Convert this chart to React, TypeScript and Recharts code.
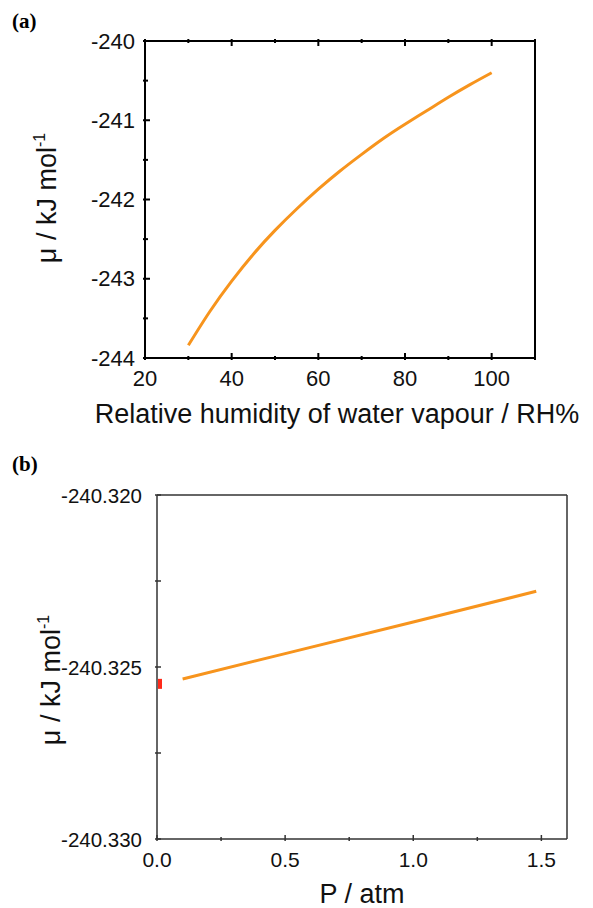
import { LineChart, Line, XAxis, YAxis, Label, ComposedChart, Scatter } from "recharts";

// (a) chemical potential vs relative humidity
const rhValues = [30, 35, 40, 45, 50, 55, 60, 65, 70, 75, 80, 85, 90, 95, 100];
const muRh = [
  -243.84, -243.41, -243.03, -242.69, -242.39, -242.12, -241.87, -241.64,
  -241.43, -241.23, -241.05, -240.88, -240.71, -240.55, -240.4,
];
const rhTicks = [20, 30, 40, 50, 60, 70, 80, 90, 100, 110];
const rhMajor = [20, 40, 60, 80, 100];
const muTicksA = [-244, -243.5, -243, -242.5, -242, -241.5, -241, -240.5, -240];
const muMajorA = [-244, -243, -242, -241, -240];

// (b) chemical potential vs pressure
const pressureValues = [0.1, 0.5, 1.0, 1.48];
const muP = [-240.32535, -240.32461, -240.32369, -240.3228];
const refPressure = [0];
const refMu = [-240.32549];
const pTicks = [0, 0.25, 0.5, 0.75, 1.0, 1.25, 1.5];
const pMajor = [0, 0.5, 1.0, 1.5];
const muTicksB = [-240.33, -240.3275, -240.325, -240.3225, -240.32];
const muMajorB = [-240.33, -240.325, -240.32];

const dataA = rhValues.map((rh, i) => ({ rh, mu: muRh[i] }));
const dataB = pressureValues.map((p, i) => ({ p, mu: muP[i] }));
const refB = refPressure.map((p, i) => ({ p, mu: refMu[i] }));

const ORANGE = "#f7941d";
const FONT = "'Liberation Sans', Arial, Helvetica, sans-serif";

type Side = "bottom" | "top" | "left" | "right";

function makeTick(
  side: Side,
  majors: number[],
  fmt: ((v: number) => string) | null,
  o: { major: number; minor: number; gap: number; size: number; stroke: string; sw: number }
) {
  return (props: any) => {
    const { x, y, payload } = props;
    const v = payload.value;
    const isMajor = majors.some((m) => Math.abs(m - v) < 1e-7);
    const len = isMajor ? o.major : o.minor;
    let x2 = x;
    let y2 = y;
    if (side === "bottom") y2 = y - len;
    if (side === "top") y2 = y + len;
    if (side === "left") x2 = x + len;
    if (side === "right") x2 = x - len;
    let label = null;
    if (fmt && isMajor) {
      if (side === "bottom")
        label = (
          <text x={x} y={y + o.gap} textAnchor="middle" dominantBaseline="central" fontSize={o.size} fontFamily={FONT} fill="#111">
            {fmt(v)}
          </text>
        );
      if (side === "left")
        label = (
          <text x={x - o.gap} y={y} textAnchor="end" dominantBaseline="central" fontSize={o.size} fontFamily={FONT} fill="#111">
            {fmt(v)}
          </text>
        );
    }
    return (
      <g>
        <line x1={x} y1={y} x2={x2} y2={y2} stroke={o.stroke} strokeWidth={o.sw} />
        {label}
      </g>
    );
  };
}

const styleA = { major: 7, minor: 4, gap: 18, size: 22, stroke: "#000", sw: 2 };
const styleAy = { ...styleA, gap: 8, minor: 5 };
const styleB = { major: 6, minor: 4, gap: 18, size: 21, stroke: "#333", sw: 1.5 };
const styleBy = { ...styleB, gap: 13, minor: 6, size: 20.5 };

function YTitle({ x, y }: { x: number; y: number }) {
  return (
    <text transform={`translate(${x},${y}) rotate(-90)`} textAnchor="middle" fontSize={27} fontFamily={FONT} fill="#111">
      μ / kJ mol<tspan dy={-11} fontSize={16}>-1</tspan>
    </text>
  );
}

function RedMark(props: any) {
  const { cx, cy } = props;
  return <rect x={cx + 1} y={cy - 5} width={4} height={10} fill="#ff2a1a" />;
}

export default function App() {
  return (
    <div style={{ position: "absolute", left: 0, top: 0, width: 593, height: 908, background: "#fff" }}>
      <div style={{ position: "absolute", left: 12, top: 9, font: "bold 21px 'Liberation Serif', serif" }}>(a)</div>
      <div style={{ position: "absolute", left: 12, top: 452, font: "bold 21px 'Liberation Serif', serif" }}>(b)</div>

      <div style={{ position: "absolute", left: 0, top: 0 }}>
        <LineChart width={593} height={440} data={dataA} margin={{ top: 0, right: 0, bottom: 0, left: 0 }}>
          <XAxis
            xAxisId="b"
            dataKey="rh"
            type="number"
            domain={[20, 110]}
            ticks={rhTicks}
            interval={0}
            height={82}
            tickSize={0}
            tickLine={false}
            axisLine={{ stroke: "#000", strokeWidth: 2 }}
            tick={makeTick("bottom", rhMajor, (v) => String(v), styleA)}
          >
            <Label
              content={() => (
                <text x={337} y={423} textAnchor="middle" fontSize={27} fontFamily={FONT} fill="#111">
                  Relative humidity of water vapour / RH%
                </text>
              )}
            />
          </XAxis>
          <XAxis
            xAxisId="t"
            dataKey="rh"
            type="number"
            orientation="top"
            domain={[20, 110]}
            ticks={rhTicks}
            interval={0}
            height={41}
            tickSize={0}
            tickLine={false}
            axisLine={{ stroke: "#000", strokeWidth: 2 }}
            tick={makeTick("top", rhMajor, null, styleA)}
          />
          <YAxis
            yAxisId="l"
            type="number"
            domain={[-244, -240]}
            ticks={muTicksA}
            interval={0}
            width={145}
            tickSize={0}
            tickLine={false}
            axisLine={{ stroke: "#000", strokeWidth: 2 }}
            tick={makeTick("left", muMajorA, (v) => String(v), styleAy)}
          >
            <Label content={() => <YTitle x={56} y={198} />} />
          </YAxis>
          <YAxis
            yAxisId="r"
            orientation="right"
            type="number"
            domain={[-244, -240]}
            ticks={muTicksA}
            interval={0}
            width={58}
            tickSize={0}
            tickLine={false}
            axisLine={{ stroke: "#000", strokeWidth: 2 }}
            tick={makeTick("right", muMajorA, null, styleAy)}
          />
          <Line
            xAxisId="b"
            yAxisId="l"
            type="natural"
            dataKey="mu"
            stroke={ORANGE}
            strokeWidth={3}
            dot={false}
            isAnimationActive={false}
          />
        </LineChart>
      </div>

      <div style={{ position: "absolute", left: 0, top: 440 }}>
        <ComposedChart width={593} height={468} margin={{ top: 0, right: 0, bottom: 0, left: 0 }}>
          <XAxis
            xAxisId="b"
            dataKey="p"
            type="number"
            domain={[0, 1.6]}
            ticks={pTicks}
            interval={0}
            height={69}
            tickSize={0}
            tickLine={false}
            axisLine={{ stroke: "#333", strokeWidth: 1.5 }}
            tick={makeTick("bottom", pMajor, (v) => v.toFixed(1), styleB)}
          >
            <Label
              content={() => (
                <text x={362} y={463} textAnchor="middle" fontSize={27} fontFamily={FONT} fill="#111">
                  P / atm
                </text>
              )}
            />
          </XAxis>
          <XAxis
            xAxisId="t"
            dataKey="p"
            type="number"
            orientation="top"
            domain={[0, 1.6]}
            ticks={pTicks}
            interval={0}
            height={55}
            tickSize={0}
            tickLine={false}
            axisLine={{ stroke: "#333", strokeWidth: 1.5 }}
            tick={makeTick("top", pMajor, null, styleB)}
          />
          <YAxis
            yAxisId="l"
            type="number"
            domain={[-240.33, -240.32]}
            ticks={muTicksB}
            interval={0}
            width={157}
            tickSize={0}
            tickLine={false}
            axisLine={{ stroke: "#333", strokeWidth: 1.5 }}
            tick={makeTick("left", muMajorB, (v) => v.toFixed(3), styleBy)}
          >
            <Label content={() => <YTitle x={60} y={240} />} />
          </YAxis>
          <YAxis
            yAxisId="r"
            orientation="right"
            type="number"
            domain={[-240.33, -240.32]}
            ticks={muTicksB}
            interval={0}
            width={26}
            tickSize={0}
            tickLine={false}
            axisLine={{ stroke: "#333", strokeWidth: 1.5 }}
            tick={makeTick("right", muMajorB, null, styleBy)}
          />
          <Line
            xAxisId="b"
            yAxisId="l"
            data={dataB}
            type="linear"
            dataKey="mu"
            stroke={ORANGE}
            strokeWidth={3}
            dot={false}
            isAnimationActive={false}
          />
          <Scatter
            xAxisId="b"
            yAxisId="l"
            data={refB}
            dataKey="mu"
            shape={RedMark}
            isAnimationActive={false}
          />
        </ComposedChart>
      </div>
    </div>
  );
}
